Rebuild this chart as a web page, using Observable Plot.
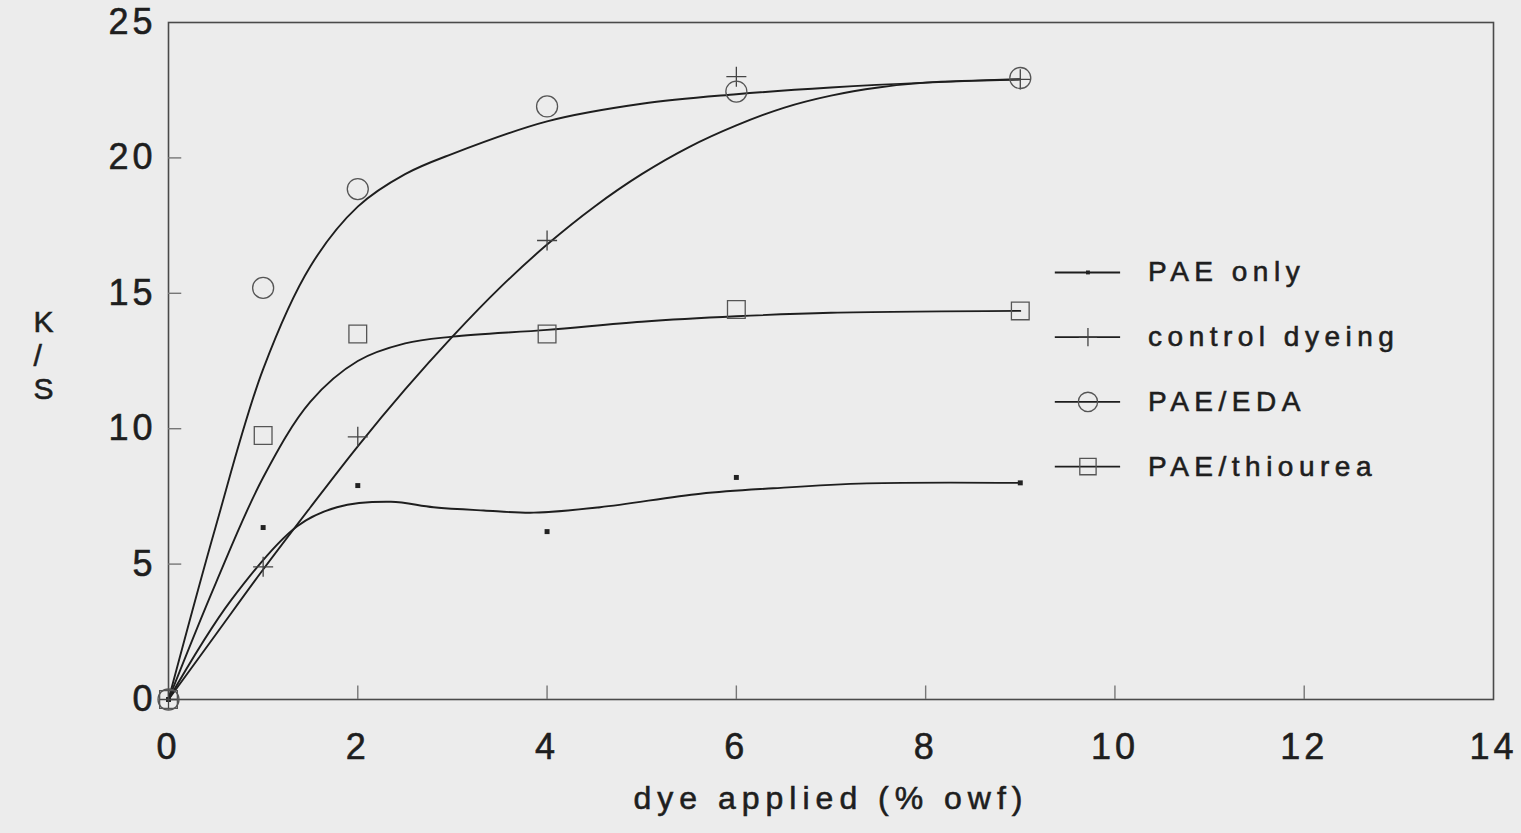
<!DOCTYPE html>
<html><head><meta charset="utf-8">
<script src="https://cdn.jsdelivr.net/npm/d3@7"></script>
<script src="https://cdn.jsdelivr.net/npm/@observablehq/plot@0.6"></script>
<style>
html,body{margin:0;padding:0;background:#ececec;}
#chart{width:1521px;height:833px;overflow:hidden;}
</style></head><body><div id="chart"></div>
<script>
// ---- data ----
const seriesNames = ["PAE only", "control dyeing", "PAE/EDA", "PAE/thiourea"];
const doseApplied = [0, 1, 2, 4, 6, 9];
const ksPaeOnly   = [0, 6.35, 7.9, 6.2, 8.2, 8.0];
const ksControl   = [0, 4.9, 9.7, 16.95, 23.0, 22.9];
const ksPaeEda    = [0, 15.2, 18.85, 21.9, 22.45, 22.95];
const ksThiourea  = [0, 9.75, 13.5, 13.5, 14.4, 14.35];

// fitted curves
const fitPaeOnlyX   = [0, 0.66, 1.36, 1.78, 2.35, 2.8, 3.33, 3.86, 4.56, 5.62, 6.39, 7.38, 9];
const fitPaeOnlyY   = [0, 3.66, 6.4, 7.1, 7.3, 7.1, 6.98, 6.9, 7.1, 7.6, 7.8, 7.98, 8.0];
const fitControlX   = [0, 0.5, 1, 1.5, 2, 2.5, 3, 3.5, 4, 4.5, 5, 5.5, 6, 6.5, 7, 7.5, 8, 9];
const fitControlY   = [0, 2.4, 4.8, 7.1, 9.35, 11.45, 13.4, 15.2, 16.8, 18.2, 19.4, 20.4, 21.2, 21.85, 22.3, 22.6, 22.78, 22.9];
const fitEdaX       = [0, 0.5, 1, 1.5, 2, 2.5, 3, 4, 5, 6, 7, 8, 9];
const fitEdaY       = [0, 6.4, 12.2, 16.0, 18.2, 19.4, 20.15, 21.35, 22.0, 22.35, 22.6, 22.78, 22.9];
const fitThioureaX  = [0, 0.5, 1, 1.5, 2, 2.5, 3, 4, 5, 6, 7, 9];
const fitThioureaY  = [0, 4.3, 8.2, 11.0, 12.5, 13.15, 13.4, 13.65, 13.95, 14.15, 14.28, 14.35];

const xTickValues = [0, 2, 4, 6, 8, 10, 12, 14];
const yTickValues = [0, 5, 10, 15, 20, 25];
const xTickMarks = [2, 4, 6, 8, 10, 12];
const yTickMarks = [5, 10, 15, 20];
const xTitle = "dye applied (% owf)";
const yTitle = "K\n/\nS";

// ---- tables ----
const measured = [ksPaeOnly, ksControl, ksPaeEda, ksThiourea];
const points = seriesNames.flatMap((name, i) => doseApplied.map((x, j) => ({name, x, y: measured[i][j]})));
const fitsX = [fitPaeOnlyX, fitControlX, fitEdaX, fitThioureaX];
const fitsY = [fitPaeOnlyY, fitControlY, fitEdaY, fitThioureaY];
const fitRows = seriesNames.flatMap((name, i) => fitsX[i].map((x, j) => ({name, x, y: fitsY[i][j]})));

const symbolStyle = {
  "PAE only":       {symbol: "square", r: 2.8, fill: "#222", stroke: "none"},
  "control dyeing": {symbol: "plus",   r: 6.5, fill: "none", stroke: "#444", strokeWidth: 1.3},
  "PAE/EDA":        {symbol: "circle", r: 10.5, fill: "none", stroke: "#555", strokeWidth: 1.3},
  "PAE/thiourea":   {symbol: "square", r: 10,  fill: "none", stroke: "#555", strokeWidth: 1.3}
};

// legend placement (inside the frame, in data units)
const legendX1 = 9.37, legendX2 = 10.06, legendTextX = 10.35, legendTop = 15.77, legendStep = 2.39;
const legendRows = seriesNames.map((name, i) => ({name, y: legendTop - i * legendStep}));

const ink = "#1e1e1e";
const marks = [
  Plot.frame({stroke: "#4a4a4a", strokeWidth: 1.6}),
  Plot.ruleX(xTickMarks, {x: d => d, y1: 0, y2: 0.5, stroke: "#777", strokeWidth: 1.4}),
  Plot.ruleY(yTickMarks, {y: d => d, x1: 0, x2: 0.14, stroke: "#777", strokeWidth: 1.4}),
  Plot.axisX({ticks: xTickValues, tickSize: 0, tickPadding: 34, fontSize: 36, label: null, tickFormat: d => String(d)}),
  Plot.axisY({ticks: yTickValues, tickSize: 0, tickPadding: 12, fontSize: 36, label: null, tickFormat: d => String(d)}),
  Plot.text([xTitle], {frameAnchor: "bottom", dy: 109, fontSize: 32, fill: ink, text: d => d}),
  Plot.text([yTitle], {frameAnchor: "left", dx: -135, dy: -6, fontSize: 30, fill: ink, lineHeight: 1.12, text: d => d}),
  Plot.line(fitRows, {x: "x", y: "y", z: "name", curve: "catmull-rom", stroke: ink, strokeWidth: 1.9}),
  ...seriesNames.map(name => Plot.dot(points.filter(p => p.name === name), {x: "x", y: "y", ...symbolStyle[name]})),
  Plot.ruleY(legendRows, {y: "y", x1: legendX1, x2: legendX2, stroke: ink, strokeWidth: 1.9}),
  ...seriesNames.map(name => Plot.dot(legendRows.filter(r => r.name === name), {x: (legendX1 + legendX2) / 2, y: "y", ...symbolStyle[name], r: name === "PAE only" ? 2.2 : symbolStyle[name].r * 0.92})),
  Plot.text(legendRows, {x: legendTextX, y: "y", text: "name", textAnchor: "start", fontSize: 28, fill: ink})
];

const chart = Plot.plot({
  width: 1521,
  height: 833,
  marginLeft: 168,
  marginRight: 28,
  marginTop: 22,
  marginBottom: 134,
  x: {domain: [0, 14]},
  y: {domain: [0, 25]},
  style: {background: "#ececec", color: ink, fontFamily: "'Liberation Sans', Arial, sans-serif", letterSpacing: "4px", overflow: "visible"},
  marks
});
// slightly heavier text, like the scanned original
d3.select(chart).selectAll("text").attr("stroke", ink).attr("stroke-width", 0.6);
d3.select(chart).selectAll("text").filter(function () { return this.textContent === xTitle; }).style("letter-spacing", "6px");
d3.select(chart).selectAll("text").filter(function () { return seriesNames.includes(this.textContent); }).style("letter-spacing", "5.5px");
document.getElementById("chart").appendChild(chart);
</script>
</body></html>
